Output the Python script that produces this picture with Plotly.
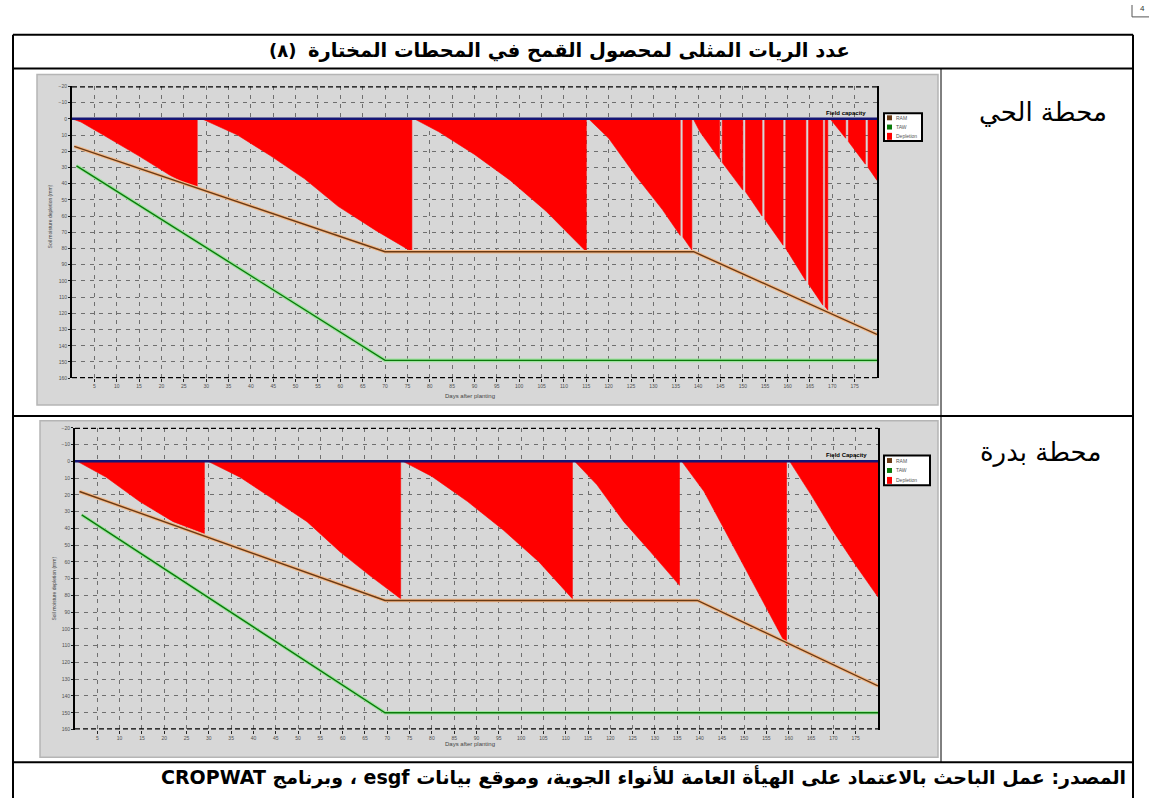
import plotly.graph_objects as go

W, H = 1149, 801

# ---------------- data ----------------
days_ticks = list(range(5, 180, 5))
depth_ticks = list(range(-20, 161, 10))

# Al-Hay station: soil moisture depletion (mm) vertices, days after planting
hay_days = [0, 2, 7, 15, 22, 28, 28,
            29, 37, 44.5, 52, 59.5, 68, 76, 76,
            76.5, 82, 90, 98, 106, 115, 115,
            115.5, 120, 126, 132, 136, 136, 136.6, 136.6, 138.6, 138.6,
            138.9, 140.4, 144.8, 144.8, 145.4, 145.4, 150, 150, 150.6, 150.6,
            154.3, 154.3, 154.9, 154.9, 159, 159, 159.6, 159.6, 164.1, 164.1,
            164.7, 164.7, 167.9, 167.9, 168.4, 168.4, 169, 169,
            169.5, 173, 173, 173.6, 173.6, 177.4, 177.4, 178, 178, 180]
hay_depl = [0, 2, 10, 23, 35, 43, 0,
            0, 10, 23, 37, 54, 69, 82, 0,
            0, 8, 22, 38, 57, 82, 0,
            0, 12, 35, 56, 72, 0, 0, 73, 81, 0,
            0, 8, 25, 0, 0, 27, 44, 0, 0, 45,
            60, 0, 0, 62, 78, 0, 0, 80, 100, 0,
            0, 102, 115, 0, 0, 116, 118, 0,
            0, 12, 0, 0, 14, 28, 0, 0, 30, 38]
hay_taw_days = [1, 70, 180]
hay_taw = [29, 149, 149]
hay_ram_days = [0.5, 70, 139, 180]
hay_ram = [17, 82, 82, 133]

# Badra station
badra_days = [0.5, 7, 14.5, 22, 29, 29,
              29.8, 37, 44.4, 52, 59.4, 66, 73, 73,
              73.5, 80, 88, 96, 104, 111.5, 111.5,
              112, 117, 123, 129, 135.5, 135.5,
              136, 141, 147, 153, 159.5, 159.5,
              160.2, 165, 170, 175, 180]
badra_depl = [0, 9.5, 24, 36, 43, 0,
              0, 9.5, 22.5, 36, 54, 68, 82, 0,
              0, 9, 24, 41, 60, 82, 0,
              0, 14, 36, 54, 74, 0,
              0, 18, 48, 78, 110, 0,
              0, 20, 42, 62, 81]
badra_taw_days = [1.5, 69.5, 180]
badra_taw = [32, 150, 150]
badra_ram_days = [1, 69.5, 139.5, 180]
badra_ram = [18, 83, 83, 134]

fc_days = [0, 180]
fc_depl = [0, 0]

title_num = "(٨)"
title_txt = "عدد الريات المثلى لمحصول القمح في المحطات المختارة"
station_names = ["محطة الحي", "محطة بدرة"]
source_txt = ("المصدر: عمل الباحث بالاعتماد على الهيأة العامة للأنواء الجوية، "
              "وموقع بيانات esgf ، وبرنامج CROPWAT")

# ---------------- colours ----------------
RED = "#ff0000"
PANEL = "#d7d7d7"
GRID = "#6f6f6f"
TAW_DARK, TAW_HALO = "#0a7a0a", "#9fe39f"
RAM_DARK, RAM_HALO = "#6b3a14", "#f2b98a"
FC_COL = "#151575"
ARABIC = "DejaVu Sans"
SMALL = "Liberation Sans"


def px(x):
    return x / W


def py(y):
    return 1 - y / H


def note(x, y, text, size, family=SMALL, color="black", xanchor="center",
         yanchor="middle", **kw):
    return dict(x=px(x), y=py(y), xref="paper", yref="paper", text=text,
                showarrow=False, xanchor=xanchor, yanchor=yanchor,
                font=dict(family=family, size=size, color=color), **kw)


fig = go.Figure()

charts = [
    dict(xa="x", ya="y", days=hay_days, depl=hay_depl,
         taw_d=hay_taw_days, taw=hay_taw, ram_d=hay_ram_days, ram=hay_ram),
    dict(xa="x2", ya="y2", days=badra_days, depl=badra_depl,
         taw_d=badra_taw_days, taw=badra_taw, ram_d=badra_ram_days, ram=badra_ram),
]

for c in charts:
    fig.add_trace(go.Scatter(x=c["days"], y=c["depl"], mode="lines", fill="tozeroy",
                             fillcolor=RED, line=dict(color=RED, width=0.6),
                             xaxis=c["xa"], yaxis=c["ya"], showlegend=False,
                             hoverinfo="skip"))
    for xs, ys, halo, dark in [(c["ram_d"], c["ram"], RAM_HALO, RAM_DARK),
                               (c["taw_d"], c["taw"], TAW_HALO, TAW_DARK)]:
        fig.add_trace(go.Scatter(x=xs, y=ys, mode="lines", line=dict(color=halo, width=3.6),
                                 xaxis=c["xa"], yaxis=c["ya"], showlegend=False,
                                 hoverinfo="skip"))
        fig.add_trace(go.Scatter(x=xs, y=ys, mode="lines", line=dict(color=dark, width=1.4),
                                 xaxis=c["xa"], yaxis=c["ya"], showlegend=False))
    fig.add_trace(go.Scatter(x=fc_days, y=fc_depl, mode="lines",
                             line=dict(color=FC_COL, width=2.6),
                             xaxis=c["xa"], yaxis=c["ya"], showlegend=False))

axis_font = dict(family=SMALL, size=5, color="#505050")
xcommon = dict(range=[0, 180], tickvals=days_ticks, showgrid=True, gridcolor=GRID,
               griddash="4px,5px", gridwidth=1, showline=False, zeroline=False,
               ticks="outside", ticklen=3, tickcolor="#222", tickfont=axis_font)
ycommon = dict(range=[160, -20], tickvals=depth_ticks, showgrid=True, gridcolor=GRID,
               griddash="4px,5px", gridwidth=1, showline=True, linecolor="black",
               linewidth=2, mirror=True, zeroline=False, ticks="outside", ticklen=2,
               tickcolor="#222", tickfont=axis_font)

fig.update_layout(
    width=W, height=H, autosize=False,
    margin=dict(l=0, r=0, t=0, b=0),
    paper_bgcolor="white", plot_bgcolor=PANEL,
    xaxis=dict(domain=[px(72), px(877)], anchor="y", **xcommon),
    yaxis=dict(domain=[py(378), py(84)], anchor="x", **ycommon),
    xaxis2=dict(domain=[px(75), px(878)], anchor="y2", **xcommon),
    yaxis2=dict(domain=[py(732), py(428)], anchor="x2", **ycommon),
)

shapes = []
# chart panels
for (x0, y0, x1, y1) in [(37, 72, 938, 405), (40, 421, 938, 760)]:
    shapes.append(dict(type="rect", xref="paper", yref="paper", layer="below",
                       x0=px(x0), x1=px(x1), y0=py(y1), y1=py(y0),
                       fillcolor=PANEL, line=dict(color="#b5b5b5", width=1.5)))
# dashed top / bottom frame of each plot
for xa, ya in [("x", "y"), ("x2", "y2")]:
    for yv in (-20, 160):
        shapes.append(dict(type="line", xref=f"{xa} domain", yref=ya, x0=0, x1=1,
                           y0=yv, y1=yv, line=dict(color="black", width=2.4, dash="5px,3px")))
# table rules
for yv in (32, 66, 416, 765):
    shapes.append(dict(type="line", xref="paper", yref="paper", x0=px(13), x1=px(1133),
                       y0=py(yv), y1=py(yv), line=dict(color="black", width=2)))
for xv in (13, 1133):
    shapes.append(dict(type="line", xref="paper", yref="paper", x0=px(xv), x1=px(xv),
                       y0=py(32), y1=py(801), line=dict(color="black", width=2)))
shapes.append(dict(type="line", xref="paper", yref="paper", x0=px(941), x1=px(941),
                   y0=py(66), y1=py(765), line=dict(color="black", width=1)))
# corner mark
shapes.append(dict(type="line", xref="paper", yref="paper", x0=px(1132), x1=px(1132),
                   y0=py(2), y1=py(14), line=dict(color="#555", width=1)))
shapes.append(dict(type="line", xref="paper", yref="paper", x0=px(1132), x1=px(1149),
                   y0=py(14), y1=py(14), line=dict(color="#555", width=1)))

# legend boxes
legend_boxes = [(884, 111, 922, 139), (884, 456, 930, 486)]
legend_labels = ["RAM", "TAW", "Depletion"]
legend_cols = [RAM_DARK, TAW_DARK, RED]
annotations = []
for (x0, y0, x1, y1) in legend_boxes:
    shapes.append(dict(type="rect", xref="paper", yref="paper",
                       x0=px(x0), x1=px(x1), y0=py(y1), y1=py(y0),
                       fillcolor="white", line=dict(color="black", width=2)))
    step = (y1 - y0) / 3.0
    for i, (lab, col) in enumerate(zip(legend_labels, legend_cols)):
        cy = y0 + step * (i + 0.5)
        hh = 2.5 if i < 2 else 3.5
        shapes.append(dict(type="rect", xref="paper", yref="paper",
                           x0=px(x0 + 3), x1=px(x0 + 8), y0=py(cy + hh), y1=py(cy - hh),
                           fillcolor=col, line=dict(width=0)))
        annotations.append(note(x0 + 10, cy, lab, 5, color="#555", xanchor="left"))

# field capacity labels
for xa, ya, lab in [("x", "y", "Field capacity"), ("x2", "y2", "Field Capacity")]:
    annotations.append(dict(x=178, y=0, xref=xa, yref=ya, text=f"<b>{lab}</b>",
                            showarrow=False, xanchor="right", yanchor="bottom", yshift=1,
                            font=dict(family=SMALL, size=6, color="black")))

# axis titles
for (x, y) in [(470, 396), (470, 747)]:
    annotations.append(note(x, y, "Days after planting", 6, color="#444"))
for (x, y) in [(50, 215), (54, 590)]:
    annotations.append(note(x, y, "Soil moisture depletion (mm)", 5, color="#444",
                            textangle=-90))

# title row
annotations.append(note(298, 48, f"<b>{title_num}</b>", 18, family=ARABIC, xanchor="right"))
annotations.append(note(852, 48, f"<b>{title_txt}</b>", 19.5, family=ARABIC, xanchor="right"))
# station names
annotations.append(note(1043, 110, station_names[0], 26, family=ARABIC))
annotations.append(note(1040, 452, station_names[1], 26, family=ARABIC))
# source line
annotations.append(note(1128, 780, "<b>\u202b" + source_txt + "\u202c</b>", 19,
                        family=ARABIC, xanchor="right"))
annotations.append(note(1142, 6, "4", 8, color="#333"))

fig.update_layout(shapes=shapes, annotations=annotations)

fig.write_html("out.html")
